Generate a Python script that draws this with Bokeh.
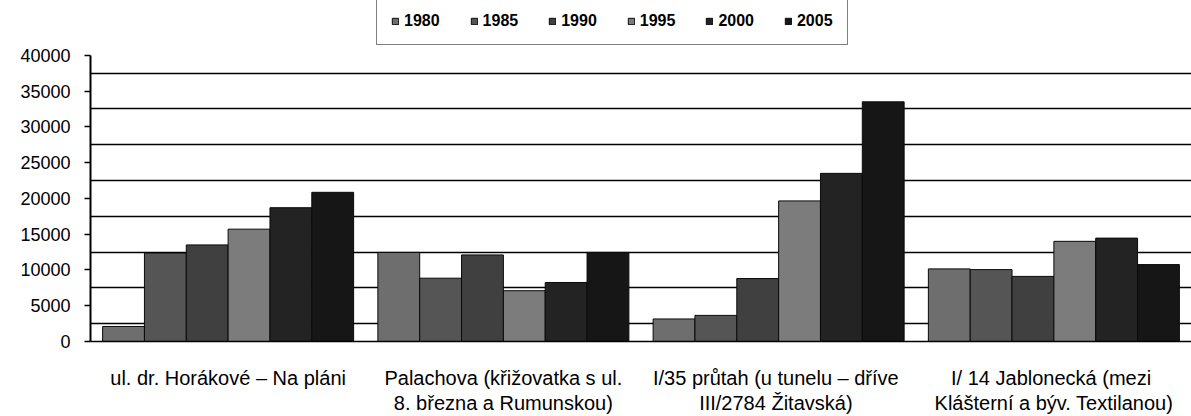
from bokeh.plotting import figure
from bokeh.models import ColumnDataSource, FactorRange, FixedTicker, Legend, LegendItem
from bokeh.transform import dodge
from bokeh.embed import file_html
from bokeh.resources import INLINE

categories = [
    "ul. dr. Horákové – Na pláni",
    "Palachova (křižovatka s ul.\n8. března a Rumunskou)",
    "I/35 průtah (u tunelu –  dříve\nIII/2784  Žitavská)",
    "I/ 14 Jablonecká  (mezi\nKlášterní a býv. Textilanou)",
]
years = ["1980", "1985", "1990", "1995", "2000", "2005"]
v1980 = [2100, 12450, 3150, 10150]
v1985 = [12350, 8850, 3650, 10050]
v1990 = [13500, 12100, 8800, 9100]
v1995 = [15700, 7100, 19650, 14000]
v2000 = [18700, 8250, 23500, 14450]
v2005 = [20850, 12450, 33500, 10750]
y_ticks = [0, 5000, 10000, 15000, 20000, 25000, 30000, 35000, 40000]
grid_lines = [2500, 7500, 12500, 17500, 22500, 27500, 32500, 37500]

series = [v1980, v1985, v1990, v1995, v2000, v2005]
colors = ["#6e6e6e", "#555555", "#404040", "#7c7c7c", "#232323", "#161616"]

data = {"cat": categories}
for y, s in zip(years, series):
    data["y" + y] = s
src = ColumnDataSource(data)

p = figure(
    width=1191, height=416,
    x_range=FactorRange(*categories, range_padding=0.0),
    y_range=(0, 47660),
    output_backend="svg", toolbar_location=None,
)
p.min_border_left = 90
p.min_border_right = 0
p.min_border_top = 0
p.min_border_bottom = 0
p.outline_line_color = None

w = 0.152
items = []
for i, (y, c) in enumerate(zip(years, colors)):
    r = p.vbar(
        x=dodge("cat", (i - 2.5) * w, range=p.x_range), top="y" + y, width=w,
        source=src, fill_color=c, line_color="#0a0a0a", line_width=1,
    )
    items.append(LegendItem(label=y, renderers=[r]))

legend = Legend(
    items=items, orientation="horizontal", location=(286, 296),
    label_text_font="Liberation Sans", label_text_font_style="bold",
    label_text_font_size="16px", label_text_color="black",
    glyph_width=8, glyph_height=8, spacing=30, padding=14,
    label_standoff=5,
    border_line_color="black", border_line_width=1.5,
)
p.add_layout(legend)

p.xgrid.grid_line_color = None
p.ygrid.ticker = FixedTicker(ticks=grid_lines)
p.ygrid.grid_line_color = "black"
p.ygrid.grid_line_width = 1.6

p.yaxis.ticker = FixedTicker(ticks=y_ticks)
p.yaxis.bounds = (0, 40000)
p.yaxis.major_label_text_font = "Liberation Sans"
p.yaxis.major_label_text_font_size = "18px"
p.yaxis.major_label_text_color = "black"
p.yaxis.axis_line_color = "black"
p.yaxis.axis_line_width = 2
p.yaxis.major_tick_line_color = "black"
p.yaxis.major_tick_line_width = 1.5
p.yaxis.major_tick_out = 6
p.yaxis.major_tick_in = 0
p.yaxis.minor_tick_line_color = None
p.yaxis.major_label_standoff = 14

p.xaxis.axis_line_color = "black"
p.xaxis.axis_line_width = 1.5
p.xaxis.major_tick_line_color = None
p.xaxis.major_tick_out = 0
p.xaxis.major_tick_in = 0
p.xaxis.major_label_text_font = "Liberation Sans"
p.xaxis.major_label_text_font_size = "20px"
p.xaxis.major_label_text_color = "black"
p.xaxis.major_label_text_line_height = 1.15
p.xaxis.major_label_standoff = 25

open("out.html", "w").write(file_html(p, INLINE))
